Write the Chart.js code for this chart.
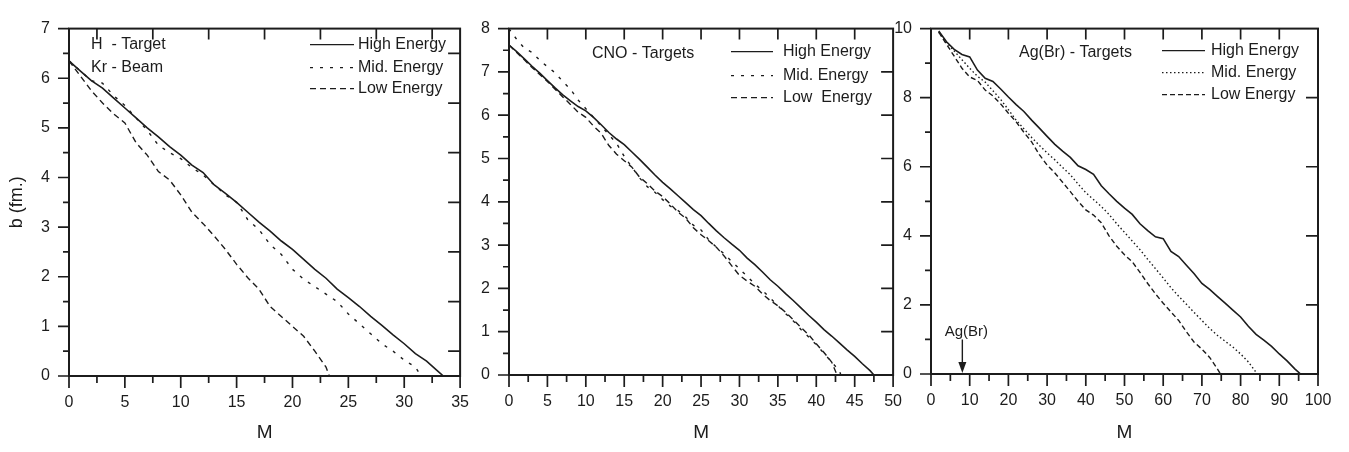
<!DOCTYPE html>
<html>
<head>
<meta charset="utf-8">
<script src="https://cdn.jsdelivr.net/npm/chart.js@4.4.0/dist/chart.umd.min.js"></script>
<style>
    body { margin: 0; background: #fff; width: 1349px; height: 452px; overflow: hidden; position: relative; }
    canvas { position: absolute; top: 0; }
</style>
</head>
<body>
<canvas id="c1" width="486" height="452" style="left:0px"></canvas>
<canvas id="c2" width="449" height="452" style="left:470px"></canvas>
<canvas id="c3" width="469" height="452" style="left:880px"></canvas>
<script>
const INK = '#1c1c1c'
const FONT = '"Liberation Sans", Arial, sans-serif'

const seriesNames = ['High Energy', 'Mid. Energy', 'Low Energy']

// H target / Kr beam
const p1HighM = [0, 1, 2, 3, 4, 5, 6, 7, 8, 9, 10, 11, 12, 13, 14, 15, 16, 17, 18, 19, 20, 21, 22, 23, 24, 25, 26, 27, 28, 29, 30, 31, 32, 33, 33.5]
const p1HighB = [6.35, 6.15, 5.95, 5.8, 5.6, 5.4, 5.2, 5.0, 4.82, 4.62, 4.45, 4.25, 4.1, 3.85, 3.68, 3.5, 3.3, 3.1, 2.92, 2.72, 2.55, 2.35, 2.15, 1.97, 1.75, 1.58, 1.4, 1.2, 1.02, 0.83, 0.65, 0.45, 0.3, 0.1, 0]
const p1MidM = [0, 1, 2, 3, 4, 5, 6, 7, 8, 9, 10, 11, 12, 13, 14, 15, 16, 17, 18, 19, 20, 21, 22, 23, 24, 25, 26, 27, 28, 29, 30, 31, 31.5]
const p1MidB = [6.35, 6.15, 5.95, 5.9, 5.65, 5.45, 5.2, 4.95, 4.65, 4.5, 4.38, 4.2, 4.05, 3.85, 3.65, 3.5, 3.15, 2.95, 2.65, 2.45, 2.15, 1.95, 1.8, 1.65, 1.5, 1.25, 1.05, 0.85, 0.65, 0.5, 0.32, 0.18, 0]
const p1LowM = [0, 1, 2, 3, 4, 5, 6, 7, 8, 9, 10, 11, 12, 13, 14, 15, 16, 17, 18, 19, 20, 21, 22, 23, 23.3]
const p1LowB = [6.35, 6.05, 5.75, 5.5, 5.28, 5.1, 4.7, 4.45, 4.12, 3.95, 3.65, 3.3, 3.07, 2.82, 2.55, 2.25, 1.98, 1.75, 1.4, 1.2, 1.0, 0.8, 0.5, 0.18, 0]

// CNO targets
const p2HighM = [0, 1, 2, 3, 4, 5, 6, 7, 8, 9, 10, 11, 12, 13, 14, 15, 16, 17, 18, 19, 20, 21, 22, 23, 24, 25, 26, 27, 28, 29, 30, 31, 32, 33, 34, 35, 36, 37, 38, 39, 40, 41, 42, 43, 44, 45, 46, 47, 47.5]
const p2HighB = [7.62, 7.47, 7.3, 7.13, 6.97, 6.8, 6.63, 6.47, 6.33, 6.2, 6.1, 5.95, 5.78, 5.6, 5.45, 5.32, 5.15, 4.98, 4.8, 4.62, 4.45, 4.3, 4.14, 3.98, 3.82, 3.68, 3.5, 3.33, 3.17, 3.02, 2.88, 2.7, 2.55, 2.38, 2.2, 2.05, 1.88, 1.72, 1.55, 1.38, 1.22, 1.05, 0.9, 0.74, 0.58, 0.43, 0.26, 0.1, 0]
const p2MidM = [0, 1, 2, 3, 4, 5, 6, 7, 8, 9, 10, 11, 12, 13, 14, 15, 16, 17, 18, 19, 20, 21, 22, 23, 24, 25, 26, 27, 28, 29, 30, 31, 32, 33, 34, 35, 36, 37, 38, 39, 40, 41, 42, 43, 43.2]
const p2MidB = [8.0, 7.75, 7.55, 7.45, 7.27, 7.12, 6.98, 6.78, 6.6, 6.35, 6.15, 5.95, 5.75, 5.55, 5.35, 5.05, 4.8, 4.55, 4.35, 4.22, 4.05, 3.9, 3.8, 3.65, 3.46, 3.35, 3.12, 2.95, 2.8, 2.62, 2.45, 2.28, 2.1, 1.95, 1.78, 1.6, 1.42, 1.25, 1.05, 0.88, 0.7, 0.5, 0.3, 0.1, 0]
const p2LowM = [0, 1, 2, 3, 4, 5, 6, 7, 8, 9, 10, 11, 12, 13, 14, 15, 16, 17, 18, 19, 20, 21, 22, 23, 24, 25, 26, 27, 28, 29, 30, 31, 32, 33, 34, 35, 36, 37, 38, 39, 40, 41, 42, 42.7]
const p2LowB = [7.62, 7.45, 7.28, 7.1, 6.94, 6.78, 6.6, 6.42, 6.25, 6.07, 5.95, 5.75, 5.58, 5.3, 5.1, 4.95, 4.8, 4.57, 4.42, 4.25, 4.12, 3.95, 3.76, 3.62, 3.4, 3.24, 3.1, 2.95, 2.75, 2.52, 2.3, 2.17, 2.05, 1.87, 1.72, 1.6, 1.45, 1.28, 1.1, 0.93, 0.72, 0.52, 0.3, 0]

// Ag(Br) targets
const p3HighM = [2, 4, 6, 8, 10, 12, 14, 16, 18, 20, 22, 24, 26, 28, 30, 32, 34, 36, 38, 40, 42, 44, 46, 48, 50, 52, 54, 56, 58, 60, 62, 64, 66, 68, 70, 72, 74, 76, 78, 80, 82, 84, 86, 88, 90, 92, 94, 95.5]
const p3HighB = [9.93, 9.62, 9.4, 9.25, 9.18, 8.8, 8.56, 8.47, 8.25, 8.02, 7.8, 7.6, 7.35, 7.12, 6.88, 6.65, 6.45, 6.27, 6.03, 5.92, 5.78, 5.45, 5.22, 5.0, 4.8, 4.62, 4.35, 4.15, 3.97, 3.92, 3.55, 3.4, 3.15, 2.9, 2.62, 2.45, 2.25, 2.05, 1.85, 1.65, 1.38, 1.15, 0.98, 0.8, 0.58, 0.38, 0.15, 0]
const p3MidM = [2, 4, 6, 8, 10, 12, 14, 16, 18, 20, 22, 24, 26, 28, 30, 32, 34, 36, 38, 40, 42, 44, 46, 48, 50, 52, 54, 56, 58, 60, 62, 64, 66, 68, 70, 72, 74, 76, 78, 80, 82, 84, 84.3]
const p3MidB = [9.9, 9.6, 9.35, 9.1, 8.85, 8.62, 8.45, 8.2, 7.95, 7.65, 7.35, 7.1, 6.85, 6.62, 6.4, 6.2, 5.98, 5.77, 5.5, 5.25, 5.05, 4.85, 4.62, 4.35, 4.1, 3.85, 3.6, 3.32, 3.05, 2.78, 2.5, 2.25, 2.02, 1.78, 1.55, 1.32, 1.12, 0.95, 0.78, 0.58, 0.35, 0.05, 0]
const p3LowM = [2, 4, 6, 8, 10, 12, 14, 16, 18, 20, 22, 24, 26, 28, 30, 32, 34, 36, 38, 40, 42, 44, 46, 48, 50, 52, 54, 56, 58, 60, 62, 64, 66, 68, 70, 72, 74, 74.8]
const p3LowB = [9.9, 9.55, 9.2, 8.85, 8.6, 8.5, 8.22, 8.05, 7.82, 7.55, 7.3, 7.0, 6.72, 6.35, 6.05, 5.82, 5.55, 5.28, 5.0, 4.75, 4.6, 4.38, 4.0, 3.7, 3.45, 3.25, 2.94, 2.62, 2.32, 2.05, 1.8, 1.55, 1.22, 0.92, 0.72, 0.48, 0.15, 0]

// Ag(Br) marker on the M axis
const agArrowM = 8.1
const agArrowTop = 1.0

function pts(ms, bs) {
    return ms.map((m, i) => ({ x: m, y: bs[i] }))
}

function isMajor(v, step) {
    const r = Math.abs(v / step - Math.round(v / step))
    return r < 1e-6
}

// frame, tick marks, inner labels and legend
const panelDecor = {
    id: 'panelDecor',
    afterDraw(chart, args, o) {
        const { ctx, chartArea: a, scales: { x, y } } = chart
        ctx.save()
        ctx.strokeStyle = INK
        ctx.lineWidth = 2
        ctx.setLineDash([])
        ctx.strokeRect(a.left, a.top, a.width, a.height)

        ctx.lineWidth = 1.7
        ctx.beginPath()
        for (let v = x.min; v <= x.max + 1e-6; v += o.xMinor) {
            const px = x.getPixelForValue(v)
            const len = isMajor(v, o.xMajor) ? 12 : 7
            ctx.moveTo(px, a.bottom)
            ctx.lineTo(px, a.bottom + len)
        }
        for (let v = y.min; v <= y.max + 1e-6; v += o.yMinor) {
            const py = y.getPixelForValue(v)
            const len = isMajor(v, o.yMajor) ? 11 : 6
            ctx.moveTo(a.left, py)
            ctx.lineTo(a.left - len, py)
        }
        o.topTicks.forEach(v => {
            const px = x.getPixelForValue(v)
            ctx.moveTo(px, a.top)
            ctx.lineTo(px, a.top + 11)
        })
        o.rightTicks.forEach(v => {
            const py = y.getPixelForValue(v)
            ctx.moveTo(a.right, py)
            ctx.lineTo(a.right - 12, py)
        })
        ctx.stroke()

        ctx.fillStyle = INK
        ctx.font = '16px ' + FONT
        ctx.textBaseline = 'middle'
        ctx.textAlign = 'left'
        o.labels.forEach(l => ctx.fillText(l.text, a.left + l.dx, a.top + l.dy))

        const lg = o.legend
        chart.data.datasets.forEach((ds, i) => {
            const ly = a.top + lg.rows[i]
            ctx.lineWidth = 1.4
            ctx.setLineDash(ds.borderDash || [])
            ctx.beginPath()
            ctx.moveTo(a.left + lg.x0, ly)
            ctx.lineTo(a.left + lg.x1, ly)
            ctx.stroke()
            ctx.setLineDash([])
            ctx.fillText(lg.names[i], a.left + lg.tx, ly)
        })

        if (o.arrow) {
            const ax = x.getPixelForValue(o.arrow.m)
            const y0 = y.getPixelForValue(o.arrow.top)
            const y1 = y.getPixelForValue(0)
            ctx.lineWidth = 1.4
            ctx.beginPath()
            ctx.moveTo(ax, y0)
            ctx.lineTo(ax, y1 - 8)
            ctx.stroke()
            ctx.beginPath()
            ctx.moveTo(ax - 4, y1 - 12)
            ctx.lineTo(ax + 4, y1 - 12)
            ctx.lineTo(ax, y1 - 1)
            ctx.closePath()
            ctx.fill()
            ctx.textAlign = 'center'
            ctx.font = '15px ' + FONT
            ctx.fillText(o.arrow.text, ax + 4, y0 - 8)
        }
        ctx.restore()
    }
}

function makePanel(id, p) {
    const dashes = p.dashes
    const datasets = p.series.map((s, i) => ({
        label: seriesNames[i],
        data: s,
        borderColor: INK,
        borderWidth: i === 0 ? 1.6 : 1.4,
        borderDash: dashes[i],
        pointRadius: 0,
        fill: false,
        tension: 0
    }))

    new Chart(document.getElementById(id), {
        type: 'line',
        data: { datasets: datasets },
        options: {
            responsive: false,
            animation: false,
            events: [],
            layout: { padding: { top: p.top, right: p.right, left: 0, bottom: 0 } },
            plugins: {
                legend: { display: false },
                tooltip: { enabled: false },
                panelDecor: {
                    xMajor: p.xMajor, xMinor: p.xMinor,
                    yMajor: p.yMajor, yMinor: p.yMinor,
                    topTicks: p.topTicks, rightTicks: p.rightTicks,
                    labels: p.labels, legend: p.legend, arrow: p.arrow
                }
            },
            scales: {
                x: {
                    type: 'linear',
                    min: 0,
                    max: p.xMax,
                    afterFit: s => { s.height = p.xHeight },
                    grid: { display: false, drawTicks: false },
                    border: { display: false },
                    ticks: { stepSize: p.xMajor, padding: 17, color: INK, font: { family: FONT, size: 16 }, maxRotation: 0, autoSkip: false },
                    title: { display: true, text: 'M', color: INK, font: { family: FONT, size: 19 }, padding: { top: 8, bottom: 8 } }
                },
                y: {
                    type: 'linear',
                    min: 0,
                    max: p.yMax,
                    afterFit: s => { s.width = p.yWidth },
                    grid: { display: false, drawTicks: false },
                    border: { display: false },
                    ticks: { stepSize: p.yMajor, padding: 19, color: INK, font: { family: FONT, size: 16 }, autoSkip: false },
                    title: { display: !!p.yTitle, text: p.yTitle || '', color: INK, font: { family: FONT, size: 18 }, padding: { top: 6, bottom: 0 } }
                }
            }
        },
        plugins: [panelDecor]
    })
}

makePanel('c1', {
    series: [pts(p1HighM, p1HighB), pts(p1MidM, p1MidB), pts(p1LowM, p1LowB)],
    dashes: [[], [3, 7], [6, 4]],
    xMax: 35, xMajor: 5, xMinor: 2.5,
    yMax: 7, yMajor: 1, yMinor: 0.5,
    top: 12, right: 0, yWidth: 69, xHeight: 76,
    yTitle: 'b (fm.)',
    topTicks: [2.5, 7.5, 12.5, 17.5, 22.5, 27.5, 32.5],
    rightTicks: [0.5, 1.5, 2.5, 3.5, 4.5, 5.5, 6.5],
    labels: [{ text: 'H  - Target', dx: 22, dy: 16 }, { text: 'Kr - Beam', dx: 22, dy: 39 }],
    legend: { names: ['High Energy', 'Mid. Energy', 'Low Energy'], rows: [16, 39, 60], x0: 241, x1: 285, tx: 289 }
})

makePanel('c2', {
    series: [pts(p2HighM, p2HighB), pts(p2MidM, p2MidB), pts(p2LowM, p2LowB)],
    dashes: [[], [3, 7], [6, 4]],
    xMax: 50, xMajor: 5, xMinor: 2.5,
    yMax: 8, yMajor: 1, yMinor: 0.5,
    top: 10, right: 0, yWidth: 39, xHeight: 77,
    topTicks: [5, 10, 15, 20, 25, 30, 35, 40, 45],
    rightTicks: [1, 2, 3, 4, 5, 6, 7],
    labels: [{ text: 'CNO - Targets', dx: 83, dy: 25 }],
    legend: { names: ['High Energy', 'Mid. Energy', 'Low  Energy'], rows: [23, 47, 69], x0: 222, x1: 264, tx: 274 }
})

makePanel('c3', {
    series: [pts(p3HighM, p3HighB), pts(p3MidM, p3MidB), pts(p3LowM, p3LowB)],
    dashes: [[], [1.5, 2.5], [5, 3]],
    xMax: 100, xMajor: 10, xMinor: 5,
    yMax: 10, yMajor: 2, yMinor: 1,
    top: 9, right: 31, yWidth: 51, xHeight: 78,
    topTicks: [10, 20, 30, 40, 50, 60, 70, 80, 90],
    rightTicks: [2, 4, 6, 8],
    labels: [{ text: 'Ag(Br) - Targets', dx: 88, dy: 24 }],
    legend: { names: ['High Energy', 'Mid. Energy', 'Low Energy'], rows: [22, 44, 66], x0: 231, x1: 274, tx: 280 },
    arrow: { m: agArrowM, top: agArrowTop, text: 'Ag(Br)' }
})
</script>
</body>
</html>
